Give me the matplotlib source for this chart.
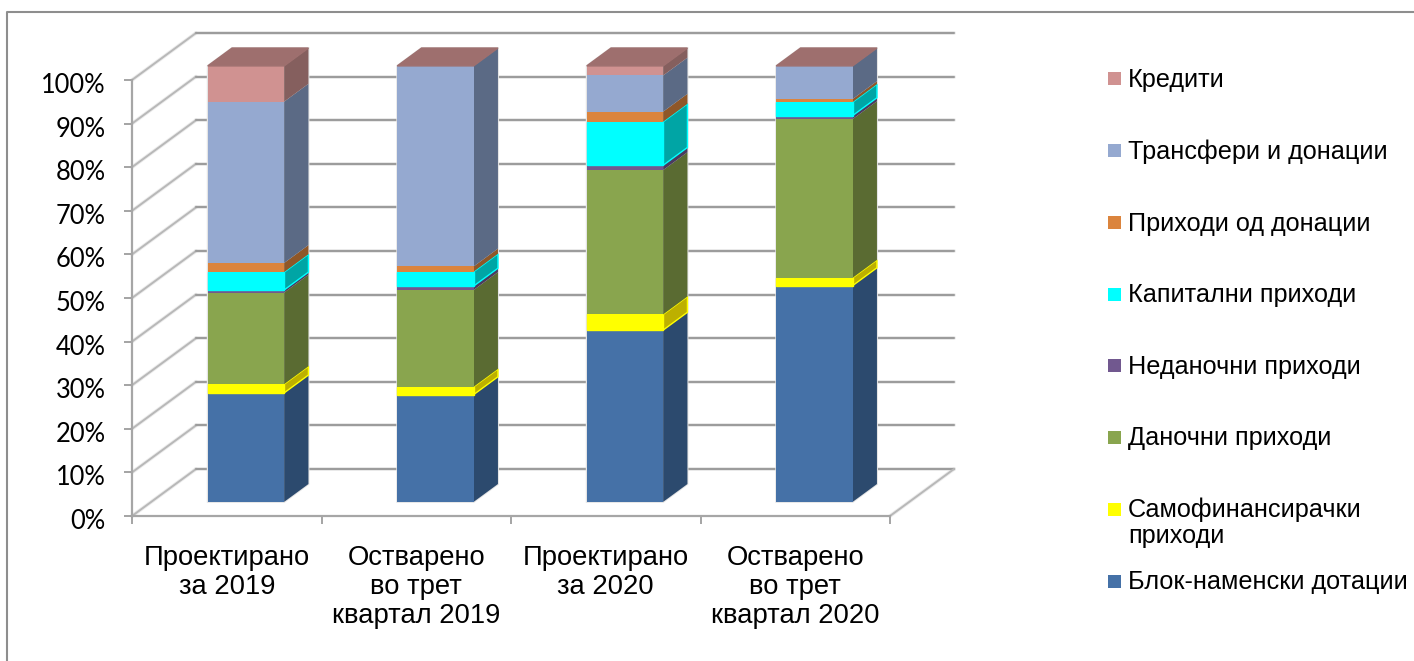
import matplotlib
matplotlib.use("Agg")
import matplotlib.pyplot as plt
from matplotlib.lines import Line2D
from matplotlib.patches import Rectangle
from matplotlib.transforms import ScaledTranslation

plt.rcParams["font.family"] = ["Liberation Sans", "DejaVu Sans"]

categories = ["Проектирано\nза 2019", "Остварено\nво трет\nквартал 2019",
              "Проектирано\nза 2020", "Остварено\nво трет\nквартал 2020"]

series_names = ["Блок-наменски дотации", "Самофинансирачки\nприходи", "Даночни приходи",
                "Неданочни приходи", "Капитални приходи", "Приходи од донации",
                "Трансфери и донации", "Кредити"]

blok = [25.0, 24.6, 39.4, 49.6]
samofin = [2.0, 1.8, 3.6, 1.8]
danocni = [21.0, 22.2, 33.1, 36.4]
nedanocni = [0.6, 0.9, 1.1, 0.8]
kapitalni = [4.1, 3.3, 10.0, 3.1]
od_donacii = [2.1, 1.2, 2.3, 0.7]
transferi = [37.0, 46.0, 8.3, 7.6]
krediti = [8.2, 0.0, 2.2, 0.0]
all_series = [blok, samofin, danocni, nedanocni, kapitalni, od_donacii, transferi, krediti]

front_colors = ["#4571A7", "#FFFF00", "#89A54E", "#71588F", "#00FFFF", "#DB843D", "#95A9D0", "#D09291"]
side_colors = ["#2C4A6E", "#BDB000", "#5A6B32", "#4A3A5E", "#00A5A5", "#8F5728", "#5B6A85", "#855F5E"]
top_color = "#9E6F6E"

W, H = 1414, 661
# depth of the floor, in data units
DX = 64 / 189.5
DY = 47 / 4.36
BAR_W = 0.403
Z0, Z1 = 0.30, 0.68


def proj(x, y, z):
    return x + z * DX, y + z * DY


def face(points):
    pts = [proj(*p) for p in points]
    return [p[0] for p in pts], [p[1] for p in pts]


fig = plt.figure(figsize=(W / 100, H / 100), dpi=100, facecolor="white")
ax = fig.add_axes([132 / W, 1 - 516 / H, (890 - 132) / W, 436 / H])
ax.set_xlim(0, 4)
ax.set_ylim(0, 100)
ax.patch.set_visible(False)
for s in ["top", "right"]:
    ax.spines[s].set_visible(False)
for s in ["left", "bottom"]:
    ax.spines[s].set_color("#A6A6A6")
    ax.spines[s].set_linewidth(1.6)

ax.set_yticks(range(0, 101, 10))
ax.set_yticklabels([f"{v}%" for v in range(0, 101, 10)], fontfamily="Lato", fontsize=18.4)
ax.tick_params(axis="y", length=6, width=1.1, color="#8C8C8C", pad=13, labelcolor="black")
for label in ax.get_yticklabels():
    label.set_transform(label.get_transform() + ScaledTranslation(0, -0.03, fig.dpi_scale_trans))
ax.set_xticks(range(5))
ax.set_xticklabels([])
ax.tick_params(axis="x", which="major", length=6, width=1.1, color="#8C8C8C")
ax.set_xticks([i + 0.5 for i in range(4)], minor=True)
ax.set_xticklabels(categories, minor=True, fontsize=19.7, linespacing=1.14)
ax.tick_params(axis="x", which="minor", length=0, pad=21)


def wall_line(xs, ys, color, lw, z=1):
    ax.plot(xs, ys, color="#D9D9D9", lw=lw + 1.3, alpha=0.5, clip_on=False, zorder=z, solid_capstyle="round")
    ax.plot(xs, ys, color=color, lw=lw, clip_on=False, zorder=z + 0.1, solid_capstyle="round")


for v in range(0, 101, 10):
    bx, by = proj(0, v, 1)
    wall_line([0, bx], [v, by], "#B8B8B8", 1.4)
    ex, ey = proj(4, v, 1)
    wall_line([bx, ex], [by, ey], "#9C9C9C", 1.5)
ex, ey = proj(4, 0, 1)
wall_line([4, ex], [0, ey], "#B8B8B8", 1.4)

for i in range(4):
    x0 = i + (1 - BAR_W) / 2
    x1 = x0 + BAR_W
    total = sum(values[i] for values in all_series)

    # pale halo round the whole bar
    hx, hy = face([(x0, 0, Z0), (x1, 0, Z0), (x1, 0, Z1), (x1, total, Z1), (x0, total, Z1), (x0, total, Z0)])
    ax.fill(hx, hy, color="#E4E4E4", ec="#E4E4E4", lw=1.4, clip_on=False, zorder=2)

    base = 0.0
    for k, values in enumerate(all_series):
        top = base + values[i]
        if values[i] > 0:
            fx, fy = face([(x0, base, Z0), (x1, base, Z0), (x1, top, Z0), (x0, top, Z0)])
            sx, sy = face([(x1, base, Z0), (x1, base, Z1), (x1, top, Z1), (x1, top, Z0)])
            # the bright series have a glow around them in the original
            bright = k in (1, 4)
            edge = front_colors[k] if bright else "none"
            lw = 1.0 if bright else 0
            ax.fill(sx, sy, color=side_colors[k], ec=edge, lw=lw, clip_on=False, zorder=3 + k * 0.1)
            ax.fill(fx, fy, color=front_colors[k], ec=edge, lw=lw, clip_on=False, zorder=3 + k * 0.1 + 0.05)
        base = top
    tx, ty = face([(x0, base, Z0), (x1, base, Z0), (x1, base, Z1), (x0, base, Z1)])
    ax.fill(tx, ty, color=top_color, clip_on=False, zorder=4)

# chart frame
fig.add_artist(Line2D([7 / W, 7 / W, 1], [0, 1 - 12 / H, 1 - 12 / H], color="#8E8E8E", lw=1.5))

# legend, top entry first
legend_y = [78.5, 150.5, 222.5, 294, 366, 437, 509, 581]
legend_names = series_names[::-1]
legend_colors = front_colors[::-1]
for name, col, y in zip(legend_names, legend_colors, legend_y):
    fig.add_artist(Rectangle((1108 / W, 1 - (y + 6.5) / H), 13 / W, 13 / H, transform=fig.transFigure,
                             facecolor=col, edgecolor="none"))
    fig.text(1128 / W, 1 - (y - 11) / H, name, ha="left", va="top", fontsize=18.2, color="black", linespacing=1.1)

fig.savefig("out.png", dpi=100)
